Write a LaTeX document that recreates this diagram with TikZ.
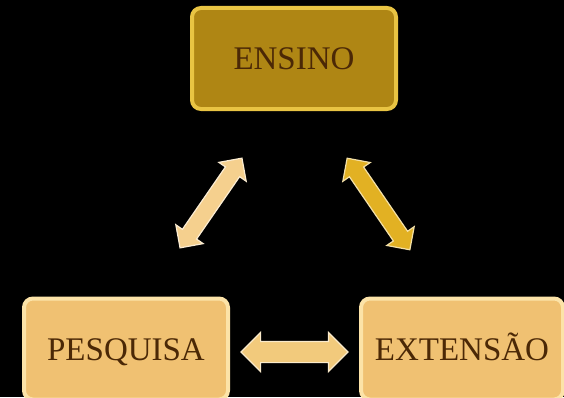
\documentclass[tikz,border=0pt]{standalone}
\usepackage{fontspec}
\setmainfont{Liberation Serif}
\usetikzlibrary{shapes.arrows}
\definecolor{topfill}{HTML}{AF8614}
\definecolor{topedge}{HTML}{E9C443}
\definecolor{botfill}{HTML}{F0C172}
\definecolor{botedge}{HTML}{FCE3A8}
\definecolor{txt}{HTML}{4B2806}
\definecolor{arrL}{HTML}{F5D08E}
\definecolor{arrR}{HTML}{E2B123}
\definecolor{arrH}{HTML}{F2CA7C}
\tikzset{
  box/.style={rounded corners=9pt, minimum width=204pt, minimum height=101pt,
    font=\fontsize{33}{36}\selectfont, text=txt, inner sep=0pt,
    text height=22pt, text depth=0pt},
  topbox/.style={box, fill=topfill, draw=topedge, line width=4pt},
  botbox/.style={box, fill=botfill, draw=botedge, line width=4pt},
  dbl/.style={double arrow, double arrow head extend=9pt, inner xsep=0pt, inner ysep=10pt,
    double arrow tip angle=90, draw=white!60!#1, line width=1.2pt, fill=#1}
}
\begin{document}
\begin{tikzpicture}[x=1pt,y=1pt]
\fill[black] (0,0) rectangle (564,397);
\useasboundingbox (0,0) rectangle (564,397);
\node[topbox] (ensino) at (294,338.5) {ENSINO};
\node[botbox] (pesquisa) at (126,48) {PESQUISA};
\node[botbox, minimum width=202pt] (extensao) at (462,48) {EXTENSÃO};
\node[dbl=arrL, minimum height=109pt, inner ysep=8pt, double arrow head extend=8pt, rotate=55.4] (aL) at (211,194) {};
\node[dbl=arrR, minimum height=111pt, inner ysep=8pt, double arrow head extend=8pt, rotate=-55.6] (aR) at (378.5,193) {};
\node[dbl=arrH, minimum height=107pt] (aH) at (294.5,45) {};
\end{tikzpicture}
\end{document}
